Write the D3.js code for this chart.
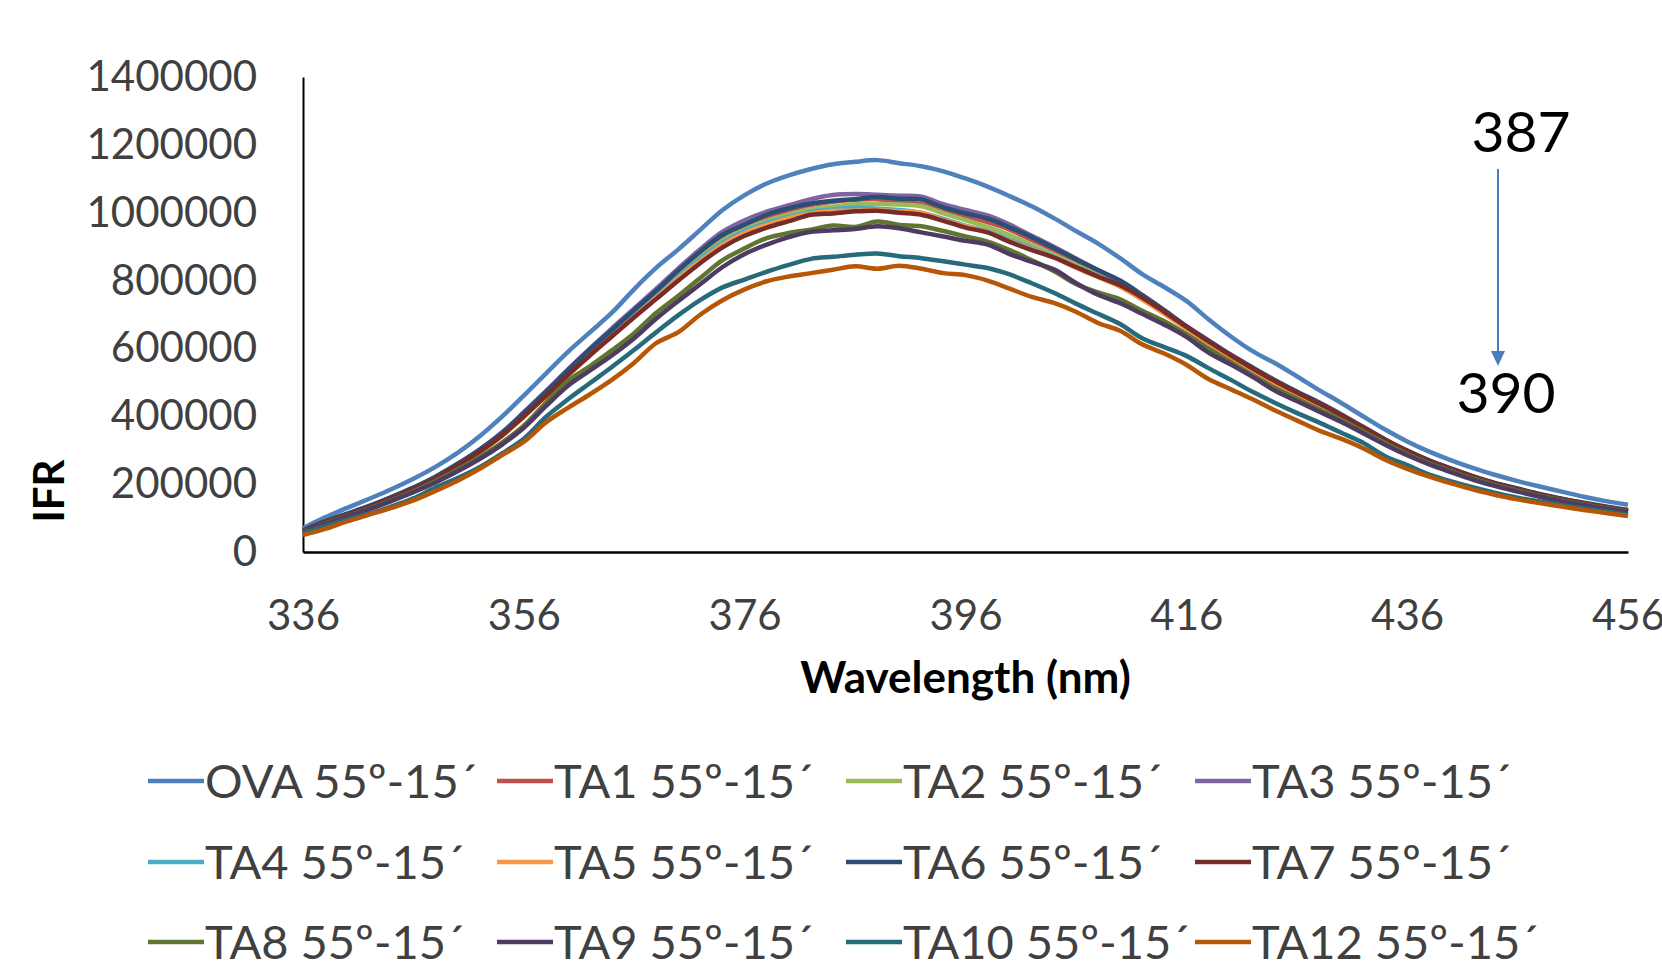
<!DOCTYPE html>
<html>
<head>
<meta charset="utf-8">
<script src="https://cdn.jsdelivr.net/npm/d3@7"></script>
<style>
    body { margin: 0; background: #fff; }
    text { font-family: Lato, "Open Sans", sans-serif; }
</style>
</head>
<body>
<svg id="chart" width="1662" height="963"></svg>
<script>
// wavelength (nm), every 2 nm
const wavelength = [336,338,340,342,344,346,348,350,352,354,356,358,360,362,364,366,368,370,372,374,376,378,380,382,384,386,388,390,392,394,396,398,400,402,404,406,408,410,412,414,416,418,420,422,424,426,428,430,432,434,436,438,440,442,444,446,448,450,452,454,456]
const xTicks = [336,356,376,396,416,436,456]
const yTicks = [0,200000,400000,600000,800000,1000000,1200000,1400000]

const seriesNames = ['OVA 55º-15´','TA1 55º-15´','TA2 55º-15´','TA3 55º-15´','TA4 55º-15´','TA5 55º-15´','TA6 55º-15´','TA7 55º-15´','TA8 55º-15´','TA9 55º-15´','TA10 55º-15´','TA12 55º-15´']
const seriesColors = ['#4F81BD','#C0504D','#9BBB59','#8064A2','#4BACC6','#F79646','#2C4D75','#772C2A','#5F7530','#4D3B62','#276A7C','#B65708']

const ova = [70000,102000,130000,157000,185000,216000,251000,292000,341000,398000,461000,526000,590000,648000,706000,775000,838000,892000,950000,1008000,1052000,1086000,1110000,1129000,1143000,1150000,1155000,1146000,1137000,1122000,1101000,1077000,1049000,1019000,984000,946000,909000,866000,819000,781000,740000,686000,636000,592000,557000,518000,478000,440000,400000,361000,326000,296000,270000,247000,227000,209000,193000,178000,163000,150000,139000]
const ta1 = [62000,88000,111000,134000,159000,187000,218000,256000,298000,346000,404000,466000,530000,590000,648000,706000,764000,822000,878000,928000,962000,985000,1005000,1022000,1032000,1038000,1040000,1033000,1025000,1008000,990000,972000,950000,920000,890000,857000,825000,795000,754000,710000,664000,620000,579000,540000,503000,469000,437000,402000,366000,329000,296000,267000,243000,220000,200000,184000,168000,155000,142000,131000,121000]
const ta2 = [60000,86000,109000,132000,157000,185000,216000,254000,296000,344000,402000,463000,526000,586000,644000,702000,760000,816000,870000,918000,952000,976000,995000,1010000,1018000,1025000,1026000,1024000,1019000,998000,978000,958000,934000,905000,876000,846000,818000,790000,752000,708000,662000,618000,577000,538000,501000,467000,435000,400000,364000,327000,294000,265000,241000,218000,199000,183000,167000,153000,141000,130000,120000]
const ta3 = [63000,89000,112000,135000,161000,189000,221000,259000,302000,352000,412000,474000,538000,600000,660000,718000,776000,836000,893000,944000,978000,1003000,1022000,1040000,1052000,1055000,1053000,1050000,1047000,1025000,1008000,992000,965000,932000,900000,865000,830000,797000,755000,711000,664000,621000,580000,541000,504000,470000,438000,403000,367000,330000,297000,268000,244000,221000,201000,185000,169000,155000,143000,132000,122000]
const ta4 = [61000,87000,110000,133000,158000,186000,217000,255000,297000,345000,403000,464000,527000,587000,644000,700000,756000,812000,865000,912000,947000,970000,988000,1003000,1010000,1015000,1012000,1008000,1000000,982000,962000,945000,920000,896000,870000,840000,812000,784000,746000,704000,660000,616000,575000,536000,499000,465000,433000,398000,362000,326000,293000,264000,240000,217000,198000,182000,166000,152000,140000,129000,119000]
const ta5 = [60000,86000,109000,131000,156000,184000,215000,252000,294000,341000,398000,459000,521000,580000,637000,694000,750000,806000,858000,905000,940000,964000,984000,998000,1005000,1006000,1007000,1004000,1000000,978000,960000,942000,916000,892000,868000,838000,810000,782000,744000,702000,657000,614000,573000,534000,497000,463000,431000,396000,360000,324000,291000,262000,238000,216000,197000,181000,165000,151000,139000,128000,118000]
const ta6 = [64000,90000,113000,136000,162000,190000,222000,260000,302000,350000,410000,472000,536000,598000,655000,713000,770000,830000,886000,935000,965000,994000,1013000,1027000,1035000,1040000,1046000,1041000,1039000,1016000,998000,983000,957000,928000,896000,863000,831000,800000,758000,713000,666000,624000,582000,544000,507000,473000,441000,406000,369000,332000,299000,270000,246000,223000,203000,187000,171000,157000,145000,134000,124000]
const ta7 = [62000,88000,110000,133000,158000,186000,217000,255000,296000,343000,400000,460000,522000,580000,636000,692000,746000,800000,852000,898000,932000,956000,975000,994000,998000,1004000,1006000,1000000,994000,976000,956000,942000,914000,890000,868000,840000,812000,786000,750000,708000,664000,621000,580000,541000,504000,470000,438000,404000,368000,331000,298000,269000,245000,222000,202000,186000,170000,156000,143000,132000,122000]
const ta8 = [59000,84000,106000,128000,152000,179000,209000,243000,280000,322000,372000,440000,505000,548000,595000,645000,705000,755000,808000,860000,895000,925000,940000,950000,962000,958000,974000,964000,960000,946000,930000,915000,890000,860000,828000,790000,765000,745000,711000,680000,642000,600000,560000,521000,484000,452000,420000,390000,356000,321000,289000,261000,238000,216000,197000,181000,165000,152000,140000,129000,119000]
const ta9 = [58000,82000,104000,126000,150000,176000,205000,238000,274000,316000,366000,430000,490000,535000,580000,630000,688000,740000,790000,840000,878000,906000,928000,944000,948000,952000,960000,954000,942000,930000,917000,906000,878000,855000,833000,793000,758000,733000,702000,670000,634000,588000,553000,516000,476000,445000,414000,384000,350000,316000,285000,258000,235000,213000,194000,178000,163000,150000,138000,127000,117000]
const ta10 = [56000,76000,96000,113000,134000,158000,190000,218000,250000,290000,334000,398000,450000,498000,546000,596000,648000,698000,743000,780000,803000,826000,846000,864000,870000,876000,880000,872000,866000,857000,847000,837000,818000,792000,764000,732000,702000,672000,630000,604000,578000,542000,508000,472000,440000,410000,382000,352000,322000,282000,256000,228000,208000,190000,174000,160000,149000,138000,129000,120000,110000]
const ta12 = [50000,68000,90000,110000,130000,152000,180000,210000,245000,285000,325000,382000,425000,465000,508000,558000,616000,648000,700000,742000,774000,798000,812000,822000,832000,842000,835000,844000,835000,822000,816000,800000,776000,752000,734000,708000,675000,652000,612000,585000,552000,510000,480000,450000,418000,388000,358000,334000,306000,272000,245000,222000,202000,184000,168000,155000,144000,134000,124000,115000,106000]

const seriesValues = [ova,ta1,ta2,ta3,ta4,ta5,ta6,ta7,ta8,ta9,ta10,ta12]

let svg = d3.select('#chart')
let plot = {left: 303, right: 1628, top: 77, bottom: 552}

let x = d3.scaleLinear().domain([336, 456]).range([plot.left, plot.right])
let y = d3.scaleLinear().domain([0, 1400000]).range([plot.bottom, plot.top])

// axes, Excel style: no tick marks, just labels
let yAxis = svg.append('g')
    .attr('transform', `translate(${plot.left},0)`)
    .call(d3.axisLeft(y).tickValues(yTicks).tickSize(0).tickPadding(46).tickFormat(d3.format('d')))
yAxis.select('.domain').attr('stroke', '#000').attr('stroke-width', 2)
yAxis.selectAll('text').attr('font-size', 42).attr('fill', '#404040').attr('font-family', 'Lato')

let xAxis = svg.append('g')
    .attr('transform', `translate(0,${plot.bottom})`)
    .call(d3.axisBottom(x).tickValues(xTicks).tickSize(0).tickPadding(48).tickFormat(d3.format('d')))
xAxis.select('.domain').attr('stroke', '#000').attr('stroke-width', 2.5)
xAxis.selectAll('text').attr('font-size', 42).attr('fill', '#404040').attr('font-family', 'Lato')

// axis titles
svg.append('text')
    .attr('x', (plot.left + plot.right) / 2).attr('y', 693)
    .attr('text-anchor', 'middle')
    .attr('font-size', 44).attr('font-weight', 'bold').attr('fill', '#000')
    .text('Wavelength (nm)')
svg.append('text')
    .attr('transform', 'translate(64,491) rotate(-90)')
    .attr('text-anchor', 'middle')
    .attr('font-size', 42).attr('font-weight', 'bold').attr('fill', '#000')
    .text('IFR')

// the spectra, OVA first so TA12 ends up on top
let line = d3.line()
    .x((d, i) => x(wavelength[i]))
    .y(d => y(d))
    .curve(d3.curveCatmullRom.alpha(0.5))

svg.append('g').selectAll('path')
    .data(seriesValues)
    .join('path')
    .attr('d', d => line(d))
    .attr('fill', 'none')
    .attr('stroke', (d, i) => seriesColors[i])
    .attr('stroke-width', 4.5)
    .attr('stroke-linejoin', 'round')

// peak shift annotation 387 -> 390
svg.append('text').attr('x', 1521).attr('y', 152).attr('text-anchor', 'middle')
    .attr('font-size', 57).attr('fill', '#000').text('387')
svg.append('text').attr('x', 1506).attr('y', 413).attr('text-anchor', 'middle')
    .attr('font-size', 57).attr('fill', '#000').text('390')
svg.append('line')
    .attr('x1', 1498).attr('y1', 169).attr('x2', 1498).attr('y2', 352)
    .attr('stroke', '#4A7EBB').attr('stroke-width', 2)
svg.append('path')
    .attr('d', 'M1491,351 L1505,351 L1498,366 Z')
    .attr('fill', '#4A7EBB')

// legend, 4 columns x 3 rows
let legendCols = [148, 497, 846, 1195]
let legendRows = [781, 862, 942]
let legend = svg.append('g').selectAll('g')
    .data(seriesNames)
    .join('g')
    .attr('transform', (d, i) => `translate(${legendCols[i % 4]},${legendRows[Math.floor(i / 4)]})`)
legend.append('line')
    .attr('x1', 0).attr('x2', 56).attr('y1', 0).attr('y2', 0)
    .attr('stroke', (d, i) => seriesColors[i])
    .attr('stroke-width', 4.5)
legend.append('text')
    .attr('x', 57).attr('y', 17)
    .attr('font-size', 47).attr('fill', '#404040')
    .text(d => d)
</script>
</body>
</html>
